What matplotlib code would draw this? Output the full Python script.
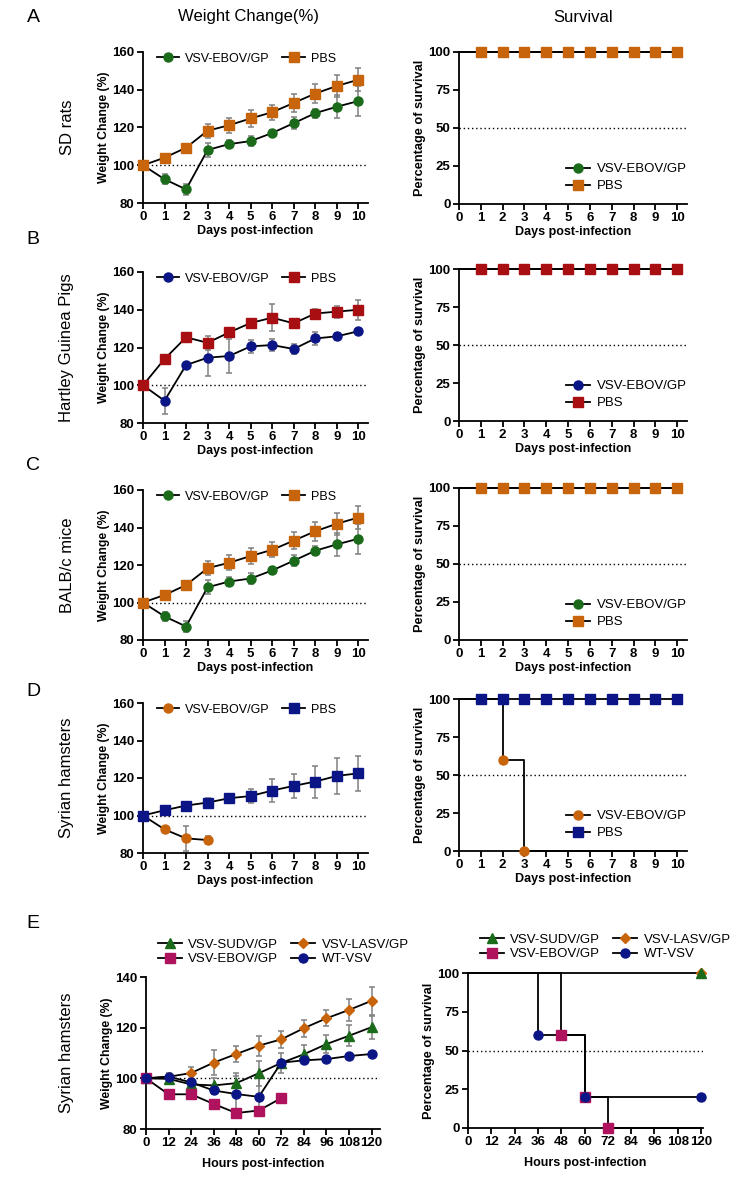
import numpy as np
import matplotlib.pyplot as plt
from matplotlib.lines import Line2D

plt.rcParams['font.family'] = ['Liberation Sans', 'DejaVu Sans']

GREEN = '#1b6b1b'
ORANGE = '#c8640c'
NAVY = '#0b1585'
DRED = '#a80f12'
MAGENTA = '#b0135e'

days = list(range(11))
surv_days = list(range(1, 11))
hours = [0, 12, 24, 36, 48, 60, 72, 84, 96, 108, 120]

# SD rats / BALB/c mice (same figure data)
rat_vsv = [100, 92.6, 87.2, 108.1, 111.2, 112.8, 117.1, 122.3, 127.6, 131.0, 134.0]
rat_vsv_err = [0, 2.6, 2.7, 3.8, 2.2, 2.8, 1.8, 3.0, 2.4, 6.0, 8.0]
rat_pbs = [100, 104.0, 109.3, 118.3, 121.2, 124.8, 128.1, 133.0, 138.0, 142.0, 145.3]
rat_pbs_err = [0, 1.0, 1.0, 3.6, 4.0, 4.5, 4.0, 4.7, 5.0, 6.0, 6.0]

# Hartley guinea pigs
gp_vsv = [100, 91.8, 110.7, 114.6, 115.5, 120.6, 121.3, 119.2, 124.8, 125.9, 128.6]
gp_vsv_err = [0, 6.8, 1.0, 9.8, 8.8, 3.5, 3.4, 2.8, 3.3, 1.8, 1.0]
gp_pbs = [100, 113.9, 125.4, 122.5, 128.0, 133.0, 135.8, 132.8, 138.0, 139.0, 140.0]
gp_pbs_err = [0, 1.0, 2.4, 3.6, 1.0, 1.0, 7.0, 1.0, 2.5, 3.2, 5.2]

# Syrian hamsters, days
ham_vsv = [100, 92.6, 87.8, 86.9]
ham_vsv_err = [0, 1.0, 6.6, 2.3]
ham_pbs = [100, 102.8, 105.3, 106.9, 109.2, 110.4, 113.3, 115.8, 118.1, 121.1, 122.5]
ham_pbs_err = [0, 1.0, 1.5, 2.5, 1.5, 3.7, 6.0, 6.6, 8.5, 9.8, 9.5]
ham_surv_t = [0, 2, 3, 10]
ham_surv_v = [100, 60, 0, 0]
ham_surv_mark_t = [2, 3]
ham_surv_mark_v = [60, 0]

# Syrian hamsters, hours
sudv = [100, 99.8, 97.6, 97.2, 98.1, 102.0, 106.1, 109.5, 113.5, 116.8, 120.2]
sudv_err = [0, 1.0, 2.0, 3.0, 4.0, 5.0, 4.0, 3.5, 3.5, 4.2, 4.5]
lasv = [100, 100.6, 102.1, 106.2, 109.6, 112.9, 115.4, 119.8, 123.7, 127.0, 130.6]
lasv_err = [0, 1.0, 2.5, 5.0, 3.0, 4.0, 3.3, 3.3, 3.1, 4.3, 5.5]
ebov = [100, 93.7, 93.7, 89.9, 86.3, 87.3, 92.2]
ebov_err = [0, 0.5, 0.5, 0.5, 1.5, 0.5, 0.5]
wt = [100, 100.7, 98.4, 95.2, 93.8, 92.7, 106.2, 107.1, 107.6, 108.8, 109.6]
wt_err = [0, 1.5, 1.5, 1.5, 7.0, 7.5, 1.0, 0.5, 0.5, 0.5, 0.5]

sudv_surv_t, sudv_surv_v = [0, 120], [100, 100]
lasv_surv_t, lasv_surv_v = [0, 120], [100, 100]
ebov_surv_t = [0, 48, 60, 72, 120]
ebov_surv_v = [100, 60, 20, 0, 0]
ebov_mark_t, ebov_mark_v = [48, 60, 72], [60, 20, 0]
wt_surv_t = [0, 36, 60, 120]
wt_surv_v = [100, 60, 20, 20]
wt_mark_t, wt_mark_v = [36, 60, 120], [60, 20, 20]

W, H = 750, 1180
fig = plt.figure(figsize=(7.5, 11.8), dpi=100)


def px_axes(x0, x1, ytop, ybot):
    return fig.add_axes([x0 / W, 1 - ybot / H, (x1 - x0) / W, (ybot - ytop) / H])


def style(ax, xlabel, ylabel, ysize=8.8):
    for s in ['top', 'right']:
        ax.spines[s].set_visible(False)
    for s in ['left', 'bottom']:
        ax.spines[s].set_linewidth(1.3)
    ax.tick_params(width=1.3, length=4, labelsize=9.5, pad=2)
    for lab in ax.get_xticklabels() + ax.get_yticklabels():
        lab.set_fontweight('bold')
    ax.set_xlabel(xlabel, fontsize=9, fontweight='bold', labelpad=1)
    ax.set_ylabel(ylabel, fontsize=ysize, fontweight='bold', labelpad=2)


def series(ax, x, y, err, color, marker, ms=6.5):
    ax.errorbar(x, y, yerr=err, color='black', lw=1.3, ecolor='#808080',
                elinewidth=1.1, capsize=2.5, capthick=1.1, marker=marker,
                ms=ms, mfc=color, mec=color, clip_on=False, zorder=3)


def handle(color, marker, ms=6.5):
    return Line2D([], [], color='black', lw=1.3, marker=marker, ms=ms,
                  mfc=color, mec=color)


def weight_panel(ytop, ybot, data, colors, markers):
    ax = px_axes(143, 368, ytop, ybot)
    ax.axhline(100, color='black', ls=(0, (1, 2)), lw=1, zorder=1)
    for (x, y, e), c, m in zip(data, colors, markers):
        series(ax, x, y, e, c, m)
    ax.set_xlim(0, 10.45)
    ax.set_ylim(80, 160)
    ax.set_xticks(days)
    ax.set_yticks([80, 100, 120, 140, 160])
    style(ax, 'Days post-infection', 'Weight Change (%)')
    hs = [handle(c, m) for c, m in zip(colors, markers)]
    ax.legend(hs, ['VSV-EBOV/GP', 'PBS'], ncol=2, loc='upper left',
              bbox_to_anchor=(0.01, 1.07), frameon=False, fontsize=9,
              handlelength=1.8, handletextpad=0.5, columnspacing=1.0)
    return ax


def surv_panel(ytop, ybot, x0=459, x1=687):
    ax = px_axes(x0, x1, ytop, ybot)
    ax.axhline(50, color='black', ls=(0, (1, 2)), lw=1, zorder=1)
    ax.set_ylim(0, 100)
    ax.set_yticks([0, 25, 50, 75, 100])
    return ax


def surv_days_panel(ytop, ybot, colors, markers, vsv_t, vsv_v, mt, mv):
    ax = surv_panel(ytop, ybot)
    ax.step(vsv_t, vsv_v, where='post', color='black', lw=1.3, clip_on=False, zorder=2)
    ax.plot(mt, mv, ls='none', marker=markers[0], ms=6.5, mfc=colors[0],
            mec=colors[0], clip_on=False, zorder=3)
    ax.step([0, 10], [100, 100], where='post', color='black', lw=1.3, clip_on=False, zorder=2)
    ax.plot(surv_days, [100] * len(surv_days), ls='none', marker=markers[1], ms=6.5,
            mfc=colors[1], mec=colors[1], clip_on=False, zorder=4)
    ax.set_xlim(0, 10.45)
    ax.set_xticks(days)
    style(ax, 'Days post-infection', 'Percentage of survival', 9.2)
    hs = [handle(c, m) for c, m in zip(colors, markers)]
    ax.legend(hs, ['VSV-EBOV/GP', 'PBS'], loc='lower right',
              bbox_to_anchor=(1.05, 0.0), frameon=False, fontsize=9.5,
              handlelength=1.8, handletextpad=0.5, labelspacing=0.35)
    return ax


# panels A-D
weight_panel(52, 203, [(days, rat_vsv, rat_vsv_err), (days, rat_pbs, rat_pbs_err)],
             [GREEN, ORANGE], ['o', 's'])
surv_days_panel(52, 204, [GREEN, ORANGE], ['o', 's'], [0, 10], [100, 100], [], [])

weight_panel(272, 423, [(days, gp_vsv, gp_vsv_err), (days, gp_pbs, gp_pbs_err)],
             [NAVY, DRED], ['o', 's'])
surv_days_panel(269, 421, [NAVY, DRED], ['o', 's'], [0, 10], [100, 100], [], [])

weight_panel(490, 640, [(days, rat_vsv, rat_vsv_err), (days, rat_pbs, rat_pbs_err)],
             [GREEN, ORANGE], ['o', 's'])
surv_days_panel(488, 640, [GREEN, ORANGE], ['o', 's'], [0, 10], [100, 100], [], [])

weight_panel(703, 853, [(days[:4], ham_vsv, ham_vsv_err), (days, ham_pbs, ham_pbs_err)],
             [ORANGE, NAVY], ['o', 's'])
surv_days_panel(699, 851, [ORANGE, NAVY], ['o', 's'], ham_surv_t, ham_surv_v,
                ham_surv_mark_t, ham_surv_mark_v)

# panel E
e_colors = [GREEN, ORANGE, MAGENTA, NAVY]
e_markers = ['^', 'D', 's', 'o']
e_ms = [6.5, 5, 6.5, 6.5]
e_labels = ['VSV-SUDV/GP', 'VSV-LASV/GP', 'VSV-EBOV/GP', 'WT-VSV']

axE = px_axes(146, 380, 977, 1129)
axE.axhline(100, color='black', ls=(0, (1, 2)), lw=1, zorder=1)
series(axE, hours, lasv, lasv_err, ORANGE, 'D', 5)
series(axE, hours, sudv, sudv_err, GREEN, '^')
series(axE, hours[:len(ebov)], ebov, ebov_err, MAGENTA, 's')
series(axE, hours, wt, wt_err, NAVY, 'o')
axE.set_xlim(0, 124.5)
axE.set_ylim(80, 140)
axE.set_xticks(hours)
axE.set_yticks([80, 100, 120, 140])
style(axE, 'Hours post-infection', 'Weight Change (%)')
axE.xaxis.labelpad = 6

axS = surv_panel(973, 1128, 468, 703)
axS.step(ebov_surv_t, ebov_surv_v, where='post', color='black', lw=1.3, clip_on=False, zorder=2)
axS.step(wt_surv_t, wt_surv_v, where='post', color='black', lw=1.3, clip_on=False, zorder=2)
axS.step(sudv_surv_t, sudv_surv_v, where='post', color='black', lw=1.3, clip_on=False, zorder=2)
axS.plot([lasv_surv_t[-1]], [lasv_surv_v[-1]], ls='none', marker='D', ms=5,
         mfc=ORANGE, mec=ORANGE, clip_on=False, zorder=3)
axS.plot([sudv_surv_t[-1]], [sudv_surv_v[-1]], ls='none', marker='^', ms=6.5,
         mfc=GREEN, mec=GREEN, clip_on=False, zorder=4)
axS.plot(ebov_mark_t, ebov_mark_v, ls='none', marker='s', ms=6.5,
         mfc=MAGENTA, mec=MAGENTA, clip_on=False, zorder=3)
axS.plot(wt_mark_t, wt_mark_v, ls='none', marker='o', ms=6.5,
         mfc=NAVY, mec=NAVY, clip_on=False, zorder=3)
axS.set_xlim(0, 121)
axS.set_xticks(hours)
style(axS, 'Hours post-infection', 'Percentage of survival', 9.2)
axS.xaxis.labelpad = 6

# legend fills column-wise, so reorder to get SUDV/LASV on the first row
order = [0, 2, 1, 3]
hsE = [handle(e_colors[i], e_markers[i], e_ms[i]) for i in order]
labsE = [e_labels[i] for i in order]
for ax, anchor in [(axE, (0.0, 1.33)), (axS, (0.0, 1.33))]:
    ax.legend(hsE, labsE, ncol=2, loc='upper left', bbox_to_anchor=anchor,
              frameon=False, fontsize=9.5, handlelength=1.8, handletextpad=0.5,
              columnspacing=1.0, labelspacing=0.15)

# titles, letters, row labels
fig.text(248 / W, 1 - 17 / H, 'Weight Change(%)', ha='center', va='center', fontsize=12)
fig.text(583 / W, 1 - 17 / H, 'Survival', ha='center', va='center', fontsize=12)
for letter, y in zip('ABCDE', [17, 240, 465, 692, 923]):
    fig.text(33 / W, 1 - y / H, letter, ha='center', va='center', fontsize=14)
rows = ['SD rats', 'Hartley Guinea Pigs', 'BALB/c mice', 'Syrian hamsters', 'Syrian hamsters']
for name, (t, b) in zip(rows, [(52, 203), (272, 423), (490, 640), (703, 853), (977, 1129)]):
    fig.text(67 / W, 1 - (t + b) / 2 / H, name, rotation=90, ha='center', va='center',
             fontsize=12)

fig.savefig('out.png', dpi=100)
